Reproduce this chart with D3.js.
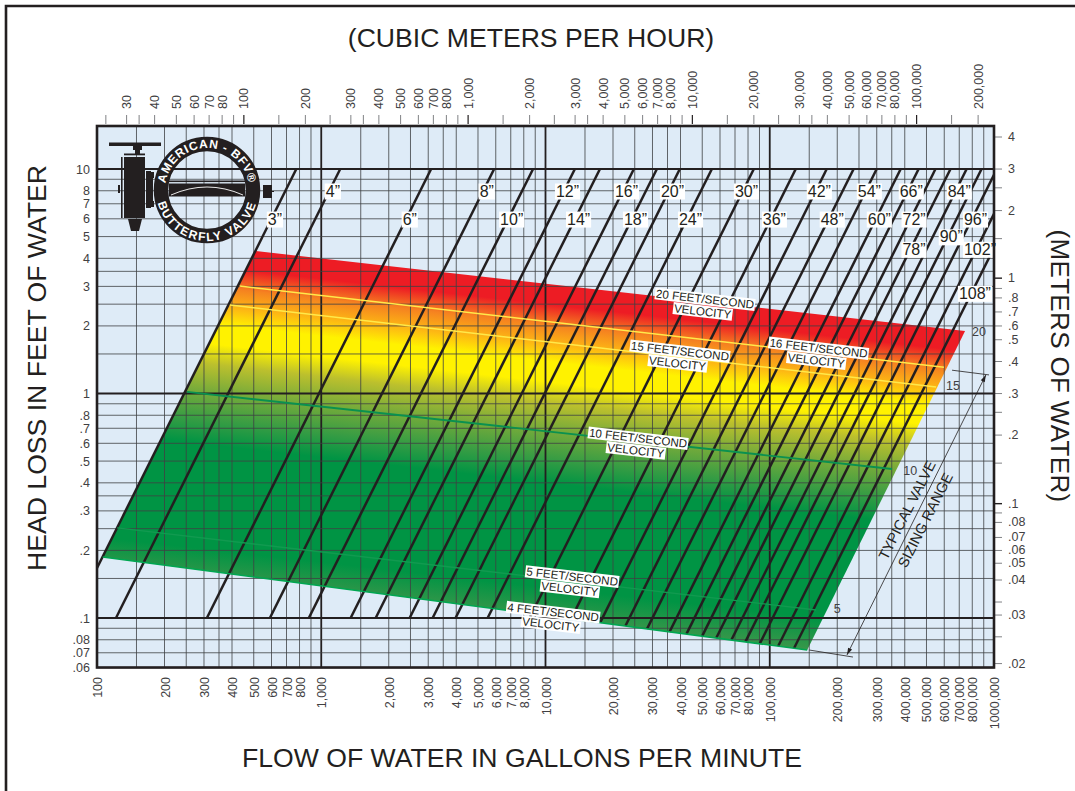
<!DOCTYPE html>
<html><head><meta charset="utf-8">
<script src="https://cdn.jsdelivr.net/npm/d3@7/dist/d3.min.js"></script>
<style>
html,body{margin:0;padding:0;background:#fff;overflow:hidden}
svg{display:block}
text{font-family:"Liberation Sans",Arial,sans-serif}
</style></head><body>
<script>
// ---------- data ----------
const diameters = ['3','4','6','8','10','12','14','16','18','20','24','30','36','42','48','54','60','66','72','78','84','90','96','102','108'];
// flow (gpm) of each valve line at 0.1 ft head loss
const flowAtTenthFoot = [77.4,121.5,309,590,880,1352,1749,2478,3138,3972,5520,8490,13060,17950,23660,29990,38370,46130,54830,63970,75510,87990,103000,125900,149900];
// head loss at which each size is written on its line
const diameterLabelHead = [6,8,6,8,6,8,6,8,6,8,6,8,6,8,6,8,6,8,6,4.4,8,5,6,4.4,2.8];

const velocityNames = ['20','16','15','10','5','4'];
const velocityStartFlow = [511,433,391,252,123,106];
const velocityStartHead = [4.31,3.01,2.48,1.016,0.252,0.187];
const velocityEndFlow   = [743000,598000,552000,351000,161000,146900];
const velocityEndHead   = [1.90,1.31,1.07,0.461,0.1086,0.0720];
const velocityLabelFlow = [51100,164000,39500,25700,13060,10740];
const velocityLabelHead = [2.48,1.5,1.455,0.596,0.144,0.1];

const edgeNames = ['20','15','10','5'];
const edgeFlow = [857000,656000,423000,200000];
const edgeHead = [1.88,1.09,0.456,0.11];

const gridMantissas = [1,1.5,2,2.5,3,3.5,4,5,6,7,8,9];
const bottomLabels = [100,200,300,400,500,600,700,800,1000,2000,3000,4000,5000,6000,7000,8000,10000,20000,30000,40000,50000,60000,70000,80000,100000,200000,300000,400000,500000,600000,700000,800000,1000000];
const leftLabels = [10,8,7,6,5,4,3,2,1,.8,.7,.6,.5,.4,.3,.2,.1,.08,.07,.06];
const topLabels = [30,40,50,60,70,80,100,200,300,400,500,600,700,800,1000,2000,3000,4000,5000,6000,7000,8000,10000,20000,30000,40000,50000,60000,70000,80000,100000,200000];
const topTicks = [25,30,35,40,50,60,70,80,90,100,150,200,250,300,350,400,500,600,700,800,900,1000,1500,2000,2500,3000,3500,4000,5000,6000,7000,8000,9000,10000,15000,20000,25000,30000,35000,40000,50000,60000,70000,80000,90000,100000,150000,200000];
const rightLabels = [4,3,2,1,.8,.7,.6,.5,.4,.3,.2,.1,.08,.07,.06,.05,.04,.03,.02];
const rightTicks = [4,3,2.5,2,1.5,1,.9,.8,.7,.6,.5,.4,.35,.3,.25,.2,.15,.1,.09,.08,.07,.06,.05,.04,.035,.03,.025,.02];

// ---------- layout ----------
const W = 1075, H = 791;
const svg = d3.select('body').append('svg').attr('width',W).attr('height',H).attr('viewBox',`0 0 ${W} ${H}`);
const ink = '#231f20', tickInk = '#414042';
const frame = {l:97,r:994,t:126,b:667.5};

const x = d3.scaleLog().domain([100,1000000]).range([97,994]);
const y = d3.scaleLog().domain([10,0.1]).range([169,618]);
// printed scale on the top and right edges: true conversion, with the printed sheet's slight offsets
const topTrue = v => x(v*4.403)+2;
const topOffset = {1.5:-4.5,2:-6,2.5:-3,3.5:-2.5};
const mant = v => +(v/Math.pow(10,Math.floor(Math.log10(v)+1e-9))).toFixed(3);
const topScale = d3.scaleLog().domain(topTicks).range(topTicks.map(v=>topTrue(v)+(topOffset[mant(v)]||0)));
const rightTrue = v => y(v*3.2808);
const rightOffset = {4:-6,5:-6,3:-2,6:-2,7:-1,8:-2,3.5:-3,2.5:-1};
const rightExtra = {0.02:4,0.03:-3,0.04:-6,0.05:-1,0.07:1,0.1:1,0.4:0};
const rightSorted = rightTicks.slice().sort((a,b)=>a-b);
const rightScale = d3.scaleLog().domain(rightSorted).range(rightSorted.map(v=>rightTrue(v)+(rightOffset[mant(v)]||0)+(rightExtra[v]||0)));

const gridX = d3.range(2,6).flatMap(e=>gridMantissas.map(m=>m*Math.pow(10,e))).concat([1000000]);
const gridY = d3.range(-2,1).flatMap(e=>gridMantissas.map(m=>+(m*Math.pow(10,e)).toPrecision(3))).concat([10]).filter(v=>v>=0.06);
const fmt = d3.format(',');
const bottomFmt = v => v===1000000 ? '1000,000' : fmt(v);
const decFmt = v => v>=1 ? String(v) : String(v).replace(/^0/,'');

// sheet border
svg.append('path').attr('d',`M6,${H}V6H${W}`).attr('fill','none').attr('stroke',ink).attr('stroke-width',2.6);

// plot background
svg.append('rect').attr('x',frame.l).attr('y',frame.t).attr('width',frame.r-frame.l).attr('height',frame.b-frame.t).attr('fill','#deebf7');

const defs = svg.append('defs');
defs.append('clipPath').attr('id','plotClip').append('rect').attr('x',frame.l).attr('y',frame.t).attr('width',frame.r-frame.l).attr('height',frame.b-frame.t);

// velocity band
const pts = i => [[x(velocityStartFlow[i]),y(velocityStartHead[i])],[x(velocityEndFlow[i]),y(velocityEndHead[i])]];
const topEdge = pts(0), botEdge = pts(5);
const slopeTop = (topEdge[1][1]-topEdge[0][1])/(topEdge[1][0]-topEdge[0][0]);
const gx0 = (topEdge[0][0]+topEdge[1][0])/2, gy0 = (topEdge[0][1]+topEdge[1][1])/2;
const botY = botEdge[0][1]+(gx0-botEdge[0][0])*(botEdge[1][1]-botEdge[0][1])/(botEdge[1][0]-botEdge[0][0]);
const gLen = (botY-gy0);
const grad = defs.append('linearGradient').attr('id','band').attr('gradientUnits','userSpaceOnUse')
  .attr('x1',gx0).attr('y1',gy0).attr('x2',gx0-slopeTop*gLen).attr('y2',gy0+gLen);
[[0,'#ed1c24'],[0.06,'#ed1c24'],[0.12,'#f58220'],[0.18,'#fdb913'],[0.23,'#fff200'],[0.29,'#fff200'],
 [0.35,'#bcc02d'],[0.43,'#78ab3a'],[0.52,'#359c44'],[0.59,'#009444'],[0.9,'#009444'],[1,'#3a974a']]
 .forEach(s=>grad.append('stop').attr('offset',s[0]).attr('stop-color',s[1]));
svg.append('path').attr('d',d3.line()([topEdge[0],topEdge[1],botEdge[1],botEdge[0]])+'Z').attr('fill','url(#band)');

// grid
const gridG = svg.append('g');
const decades = new Set([1000,10000,100000,10,1,0.1]);
gridG.selectAll('.gv').data(gridX.filter(v=>v>100&&v<1000000)).join('line')
  .attr('x1',d=>x(d)).attr('x2',d=>x(d)).attr('y1',frame.t).attr('y2',frame.b)
  .attr('stroke',d=>decades.has(d)?ink:'#3f4144').attr('stroke-width',d=>decades.has(d)?1.8:1).attr('stroke-opacity',d=>decades.has(d)?1:0.8);
gridG.selectAll('.gh').data(gridY).join('line')
  .attr('x1',frame.l).attr('x2',frame.r).attr('y1',d=>y(d)).attr('y2',d=>y(d))
  .attr('stroke',d=>decades.has(d)?ink:'#3f4144').attr('stroke-width',d=>decades.has(d)?1.8:1).attr('stroke-opacity',d=>decades.has(d)?1:0.8);

// valve-size lines: head loss grows with flow squared
const flowAt = (q,h) => q*Math.sqrt(h/0.1);
const edgeY = px => botEdge[0][1]+(px-botEdge[0][0])*(botEdge[1][1]-botEdge[0][1])/(botEdge[1][0]-botEdge[0][0]);
const lineG = svg.append('g').attr('clip-path','url(#plotClip)');
lineG.selectAll('line').data(flowAtTenthFoot).join('line')
  .each(function(q){
    const x1 = x(flowAt(q,10)), y1 = y(10), x2 = x(q), y2 = y(0.1);
    let ex = x2, ey = y2;
    if (edgeY(x2) > y2) {
      // continue down to the lower edge of the band
      const s = (y2-y1)/(x2-x1), m = (botEdge[1][1]-botEdge[0][1])/(botEdge[1][0]-botEdge[0][0]);
      ex = (edgeY(0)-y1+s*x1)/(s-m); ey = edgeY(ex);
    }
    d3.select(this).attr('x1',x1).attr('y1',y1).attr('x2',ex).attr('y2',ey);
  })
  .attr('stroke',ink).attr('stroke-width',2.5);

// velocity lines
const velColour = {'20':'none','16':'#ffe94a','15':'#ffe94a','10':'#0a9150','5':'#119a50','4':'#00a651'};
const velWidth = {'20':0,'16':1.5,'15':1.5,'10':1.8,'5':1.4,'4':1.6};
velocityNames.forEach((n,i)=>{
  if(velColour[n]==='none') return;
  const p = pts(i);
  svg.append('line').attr('x1',p[0][0]).attr('y1',p[0][1]).attr('x2',p[1][0]).attr('y2',p[1][1])
    .attr('stroke',velColour[n]).attr('stroke-width',velWidth[n]);
});

// labelled text with white backing
function backed(parent,str,size,cx,cy,pad){
  const g = parent.append('g').attr('transform',`translate(${cx},${cy})`);
  const r = g.append('rect').attr('fill','#fff');
  const t = g.append('text').attr('text-anchor','middle').attr('dy','0.36em').attr('font-size',size).attr('fill',ink).text(str);
  const b = t.node().getBBox();
  r.attr('x',b.x-pad).attr('y',b.y+1).attr('width',b.width+pad*2).attr('height',b.height-1);
  return g;
}
const labelsG = svg.append('g');
diameters.forEach((d,i)=>{
  const q = flowAtTenthFoot[i], h = diameterLabelHead[i];
  backed(labelsG,d+'”',16,x(flowAt(q,h))+3.5,y(h),1);
});
velocityNames.forEach((n,i)=>{
  const g = labelsG.append('g').attr('transform',`translate(${x(velocityLabelFlow[i])},${y(velocityLabelHead[i])}) rotate(6.6)`);
  backed(g,n+' FEET/SECOND',11.6,0,-6,1);
  backed(g,'VELOCITY',11.6,-1,6.5,1);
});
edgeNames.forEach((n,i)=>{
  labelsG.append('text').attr('x',x(edgeFlow[i])).attr('y',y(edgeHead[i])).attr('dy','0.36em')
    .attr('text-anchor','middle').attr('font-size',12.5).attr('fill',tickInk).text(n);
});

// sizing range annotation
const rangeTopFlow=[650000,950000], rangeTopHead=[1.27,1.21];
const rangeBotFlow=[150000,235000], rangeBotHead=[0.072,0.067];
const rangeArrowFlow=[920000,221000], rangeArrowHead=[1.21,0.0685];
const ann = svg.append('g').attr('stroke',ink).attr('stroke-width',0.8);
ann.append('line').attr('x1',x(rangeTopFlow[0])).attr('y1',y(rangeTopHead[0])).attr('x2',x(rangeTopFlow[1])).attr('y2',y(rangeTopHead[1]));
ann.append('line').attr('x1',x(rangeBotFlow[0])).attr('y1',y(rangeBotHead[0])).attr('x2',x(rangeBotFlow[1])).attr('y2',y(rangeBotHead[1]));
const ax1=x(rangeArrowFlow[0]),ay1=y(rangeArrowHead[0]),ax2=x(rangeArrowFlow[1]),ay2=y(rangeArrowHead[1]);
ann.append('line').attr('x1',ax1).attr('y1',ay1).attr('x2',ax2).attr('y2',ay2);
const ang = Math.atan2(ay2-ay1,ax2-ax1);
[[ax1,ay1,1],[ax2,ay2,-1]].forEach(([px,py,s])=>{
  const L=7,w=2.2,c=Math.cos(ang),sn=Math.sin(ang);
  const bx=px+s*c*L,by=py+s*sn*L;
  ann.append('path').attr('d',`M${px},${py}L${bx-sn*w},${by+c*w}L${bx+sn*w},${by-c*w}Z`).attr('fill',ink).attr('stroke','none');
});
[['TYPICAL VALVE',409000,0.303],['SIZING RANGE',493000,0.2733]].forEach(([s,q,h])=>{
  svg.append('text').attr('transform',`translate(${x(q)},${y(h)}) rotate(-63)`).attr('text-anchor','middle').attr('dy','0.36em')
    .attr('font-size',14.5).attr('fill',ink).text(s);
});

// axes
function styleAxis(g){ g.select('.domain').remove(); g.selectAll('text').attr('fill',tickInk).attr('font-size',12.5).attr('font-family','"Liberation Sans",Arial,sans-serif'); }
const gBottom = svg.append('g').attr('transform',`translate(0,${frame.b})`)
  .call(d3.axisBottom(x).tickValues(bottomLabels).tickSize(0).tickFormat(bottomFmt)).call(styleAxis);
gBottom.selectAll('text').attr('transform','rotate(-90)').attr('x',-9.5).attr('y',0).attr('dy','0.36em').attr('text-anchor','end');

const leftY = d3.scaleLog().domain([10,0.1]).range([169,618]);
svg.append('g').attr('transform',`translate(${frame.l},0)`)
  .call(d3.axisLeft(leftY).tickValues(leftLabels).tickSize(0).tickPadding(7).tickFormat(decFmt)).call(styleAxis);

const topSet = new Set(topLabels);
const gTop = svg.append('g').attr('transform',`translate(0,${frame.t-2})`)
  .call(d3.axisTop(topScale).tickValues(topTicks).tickSize(9).tickFormat(d=>topSet.has(d)?fmt(d):'')).call(styleAxis);
gTop.selectAll('.tick line').attr('stroke',d=>[100,1000,10000,100000].includes(d)?ink:'#808285').attr('stroke-width',d=>[100,1000,10000,100000].includes(d)?1.2:1);
gTop.selectAll('text').attr('transform','rotate(-90)').attr('x',15).attr('y',0).attr('dy','0.36em').attr('text-anchor','start');

const rightSet = new Set(rightLabels);
const gRight = svg.append('g').attr('transform',`translate(${frame.r},0)`)
  .call(d3.axisRight(rightScale).tickValues(rightTicks).tickSize(8).tickPadding(6).tickFormat(d=>rightSet.has(d)?decFmt(d):'')).call(styleAxis);
gRight.selectAll('.tick line').attr('stroke',d=>[1,.1].includes(d)?ink:'#808285').attr('stroke-width',d=>[1,.1].includes(d)?1.4:1);

// frame
svg.append('rect').attr('x',frame.l).attr('y',frame.t).attr('width',frame.r-frame.l).attr('height',frame.b-frame.t)
  .attr('fill','none').attr('stroke',ink).attr('stroke-width',2.6);

// titles
const title=(s,tx,ty,rot,size)=>svg.append('text').attr('transform',`translate(${tx},${ty}) rotate(${rot})`)
  .attr('text-anchor','middle').attr('font-size',size).attr('fill',ink).text(s);
title('(CUBIC METERS PER HOUR)',531,47,0,26.6);
title('HEAD LOSS IN FEET OF WATER',46,368,-90,26.6);
title('(METERS OF WATER)',1051,366,90,26).attr('letter-spacing',0.35);
title('FLOW OF WATER IN GALLONS PER MINUTE',522,767,0,26.6);

// maker's mark
const logo = svg.append('g');
const black = ink;
const rect=(a,b,c,d,f=black)=>logo.append('rect').attr('x',a).attr('y',b).attr('width',c).attr('height',d).attr('fill',f);
rect(109,142.5,52,3.5);
rect(133,146,9,4); rect(135,150,5,4);
rect(124,153.5,21,1.8);
rect(121,157,1.6,61); rect(124,157,21,61);
logo.append('path').attr('d','M128,219H142L139,231H131Z').attr('fill',black);
rect(118,185,2,8);
rect(146,171,5,37); rect(151,172,3,6); rect(151,201,3,6); rect(150,178,3,23);
rect(263,185,9,13); rect(272,191,2,1);
logo.append('circle').attr('cx',207).attr('cy',190).attr('r',46).attr('fill','none').attr('stroke',black).attr('stroke-width',14.5);
rect(169,180.5,76,1.6); rect(169,183.5,76,13);
logo.append('path').attr('d','M171,195Q207,179 243,195').attr('fill','none').attr('stroke','#fff').attr('stroke-width',0.9);
// circular paths for the ring lettering: top runs clockwise, bottom counter-clockwise
defs.append('path').attr('id','arcTop').attr('d','M207,232A42,42 0 1 1 207.1,232');
defs.append('path').attr('id','arcBottom').attr('d','M207,139A51,51 0 1 0 207.1,139');
const ringText=(id,s,sp)=>logo.append('text').attr('font-size',12).attr('font-weight','bold').attr('fill','#fff').attr('letter-spacing',sp)
  .append('textPath').attr('href','#'+id).attr('startOffset','50%').attr('text-anchor','middle').text(s);
ringText('arcTop','AMERICAN - BFV®',0.7);
ringText('arcBottom','BUTTERFLY VALVE',1.5);
</script>
</body></html>
